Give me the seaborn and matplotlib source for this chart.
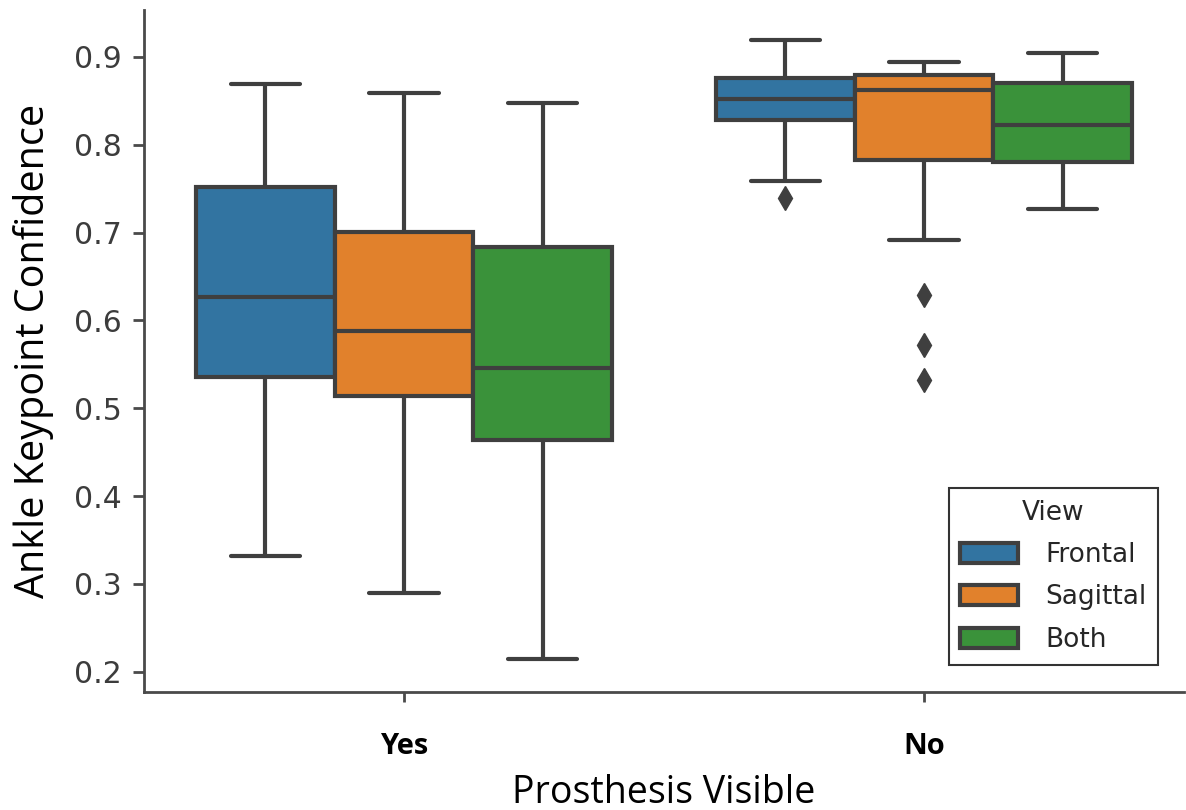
import matplotlib
matplotlib.use("Agg")
import matplotlib.pyplot as plt
import numpy as np
import pandas as pd
import seaborn as sns

# Summary statistics per group (order: Yes-Frontal, Yes-Sagittal, Yes-Both, No-Frontal, No-Sagittal, No-Both)
visible = ["Yes", "Yes", "Yes", "No", "No", "No"]
views = ["Frontal", "Sagittal", "Both", "Frontal", "Sagittal", "Both"]
whisk_lo = [0.332, 0.290, 0.2145, 0.759, 0.692, 0.727]
q1 = [0.536, 0.5145, 0.464, 0.828, 0.783, 0.781]
median = [0.627, 0.588, 0.546, 0.852, 0.862, 0.8226]
q3 = [0.752, 0.701, 0.684, 0.876, 0.880, 0.870]
whisk_hi = [0.869, 0.859, 0.848, 0.919, 0.894, 0.905]
outliers = [[], [], [], [0.739], [0.532, 0.572, 0.629], []]

view_order = ["Frontal", "Sagittal", "Both"]
visible_order = ["Yes", "No"]


def group_sample(lo, a, m, b, hi, extra, k=4):
    """Sorted sample of length 4k+1 whose quartiles are exactly a, m, b."""
    low = sorted(extra) + [lo]
    low += [a] * (k + 1 - len(low))
    mid1 = [a] * (k - 1) + [m]
    mid2 = [m] * (k - 1) + [b]
    high = [b] * (k - 1) + [hi]
    return low + mid1 + mid2 + high


rows = []
for i in range(len(views)):
    for v in group_sample(whisk_lo[i], q1[i], median[i], q3[i], whisk_hi[i], outliers[i]):
        rows.append({"Prosthesis Visible": visible[i], "View": views[i], "conf": v})
df = pd.DataFrame(rows)

sns.set_theme(style="ticks")
fig = plt.figure(figsize=(11.86, 8.10), dpi=100)
ax = fig.add_axes([144 / 1186, 118 / 810, 1040 / 1186, 682 / 810])

line_c = "#3f3f3f"
sns.boxplot(
    data=df, x="Prosthesis Visible", y="conf", hue="View",
    order=visible_order, hue_order=view_order,
    palette="tab10", saturation=0.75, width=0.8, gap=0,
    linewidth=3.0, linecolor=line_c,
    flierprops=dict(marker="d", markersize=12, markerfacecolor=line_c,
                    markeredgecolor=line_c),
    ax=ax,
)

ax.set_ylim(0.177, 0.9535)
ax.set_xlim(-0.5, 1.5)
ax.set_yticks([0.2, 0.3, 0.4, 0.5, 0.6, 0.7, 0.8, 0.9])
ax.set_yticklabels(["0.2", "0.3", "0.4", "0.5", "0.6", "0.7", "0.8", "0.9"])
for s in ["top", "right"]:
    ax.spines[s].set_visible(False)
for s in ["left", "bottom"]:
    ax.spines[s].set_linewidth(2.0)
    ax.spines[s].set_color("#4a4a4a")

ax.tick_params(axis="y", labelsize=21.5, labelcolor="#3c3c3c", length=8, width=2,
               color="#4a4a4a", pad=8)
ax.tick_params(axis="x", length=7, width=2, color="#4a4a4a", pad=22)
ax.set_xticks([0, 1])
ax.set_xticklabels(visible_order, fontsize=21, fontweight="bold",
                   family=["Open Sans", "DejaVu Sans"], color="black")

ax.set_xlabel("Prosthesis Visible", fontsize=27, family=["Open Sans", "DejaVu Sans"],
              color="black", labelpad=9)
ax.set_ylabel("Ankle Keypoint Confidence", fontsize=28.5, family=["Open Sans", "DejaVu Sans"],
              color="black", labelpad=14)

leg = ax.legend(title="View", loc="lower right", bbox_to_anchor=(0.975, 0.04),
                borderaxespad=0, fontsize=19, title_fontsize=19,
                frameon=True, fancybox=False, edgecolor="black",
                handlelength=2.2, handleheight=0.8, labelspacing=0.62,
                borderpad=0.45, handletextpad=1.0)
leg.get_frame().set_linewidth(1.5)

fig.savefig("out.png", dpi=100)
